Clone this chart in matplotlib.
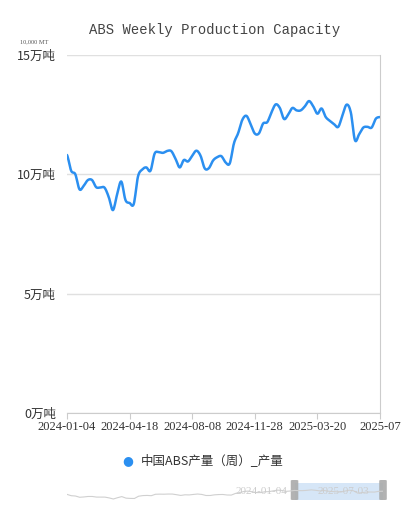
import numpy as np
import matplotlib
matplotlib.use("Agg")
import matplotlib.pyplot as plt
from matplotlib.patches import Rectangle, FancyBboxPatch

plt.rcParams['font.family'] = ['Noto Sans CJK SC', 'DejaVu Sans']

values = [10.81,10.15,10.0,9.37,9.52,9.76,9.76,9.46,9.45,9.44,9.05,8.5,9.15,9.7,8.93,8.8,8.76,9.9,10.2,10.29,
          10.15,10.87,10.93,10.9,10.98,10.97,10.65,10.29,10.6,10.54,10.78,10.99,10.78,10.25,10.26,10.58,10.72,10.76,10.5,10.46,
          11.3,11.72,12.28,12.45,12.1,11.71,11.72,12.13,12.19,12.6,12.93,12.78,12.32,12.5,12.78,12.68,12.68,12.85,13.07,12.85,
          12.54,12.76,12.4,12.24,12.1,11.99,12.47,12.92,12.6,11.43,11.68,11.96,11.99,11.96,12.33,12.4]
tick_labels = ["2024-01-04","2024-04-18","2024-08-08","2024-11-28","2025-03-20","2025-07"]
ytick_vals = [0, 5, 10, 15]
ytick_labels = ["0万吨","5万吨","10万吨","15万吨"]
series_name = "中国ABS产量（周）_产量"
blue = "#2b8ff0"

def smooth(y, k=8):
    y = np.asarray(y, float); n = len(y)
    xs, ys = [], []
    for i in range(n - 1):
        p0 = y[max(i - 1, 0)]; p1 = y[i]; p2 = y[i + 1]; p3 = y[min(i + 2, n - 1)]
        for t in np.linspace(0, 1, k, endpoint=False):
            v = 0.5 * ((2 * p1) + (-p0 + p2) * t + (2 * p0 - 5 * p1 + 4 * p2 - p3) * t * t + (-p0 + 3 * p1 - 3 * p2 + p3) * t ** 3)
            xs.append(i + t); ys.append(v)
    xs.append(n - 1); ys.append(y[-1])
    return np.array(xs), np.array(ys)

W, H = 401, 511
fig = plt.figure(figsize=(W / 100, H / 100), dpi=100)
ax = fig.add_axes([67 / W, 1 - 413 / H, (380 - 67) / W, (413 - 55) / H])
n = len(values)
sx, sy = smooth(values)
ax.plot(sx, sy, color=blue, lw=1.8, solid_capstyle='round')
ax.set_xlim(0, n - 1)
ax.set_ylim(0, 15)
ax.set_yticks(ytick_vals)
ax.set_yticklabels(ytick_labels, fontsize=9, color="#333333")
ax.set_xticks(np.linspace(0, n - 1, len(tick_labels)))
ax.set_xticklabels(tick_labels, fontsize=9, color="#333333", family=['Liberation Serif'])
ax.grid(axis='y', color="#e0e0e0", lw=1)
ax.set_axisbelow(True)
for s in ['top', 'left']:
    ax.spines[s].set_visible(False)
ax.spines['right'].set_color('#cccccc')
ax.spines['bottom'].set_color('#cccccc')
ax.tick_params(axis='y', length=0, pad=8)
ax.tick_params(axis='x', length=4, color='#cccccc', pad=2)

fig.text(0.535, 1 - 30 / H, "ABS Weekly Production Capacity", ha='center', va='center',
         fontsize=10, family=['Liberation Mono'], color="#444444")
fig.text(20 / W, 1 - 42 / H, "10,000 MT", fontsize=4.5, family=['Liberation Serif'], color="#555555", va='center')

# legend
fig.text(128 / W, 1 - 461 / H, "●", color=blue, fontsize=9, ha='center', va='center', family=['DejaVu Sans'])
fig.text(141 / W, 1 - 461 / H, series_name, fontsize=9, color="#333333", va='center')

# data zoom slider
sax = fig.add_axes([67 / W, 1 - 500 / H, (383 - 67) / W, 20 / H])
sax.set_xlim(0, n - 1); sax.set_ylim(0, 15)
sax.axis('off')
sax.plot(np.arange(n), (np.array(values) - 8) * 1.5, color="#d0d0d0", lw=0.8)
sax.add_patch(Rectangle((0.72 * (n - 1), 0), 0.28 * (n - 1), 13, color="#d6e6f7", lw=0))
for xp in (0.72 * (n - 1), n - 1):
    sax.add_patch(FancyBboxPatch((xp - 0.9, 0), 1.8, 15, boxstyle="round,pad=0,rounding_size=0.5",
                                 color="#aaaaaa", lw=0, alpha=0.9, clip_on=False))
fig.text(236 / W, 1 - 491 / H, "2024-01-04", fontsize=8, color="#cccccc", va='center', family=['Liberation Serif'])
fig.text(318 / W, 1 - 491 / H, "2025-07-03", fontsize=8, color="#cccccc", va='center', family=['Liberation Serif'])

fig.savefig("out.png", dpi=100)
